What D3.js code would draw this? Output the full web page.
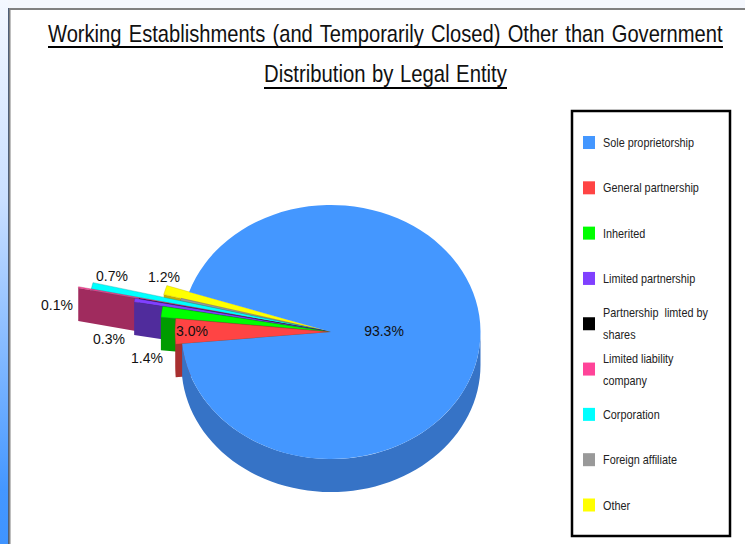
<!DOCTYPE html>
<html>
<head>
<meta charset="utf-8">
<script src="https://cdn.jsdelivr.net/npm/d3@7"></script>
<style>
  html, body { margin: 0; padding: 0; background: #fff; }
  svg { display: block; }
  text { font-family: "Liberation Sans", Arial, sans-serif; }
</style>
</head>
<body>
<div id="Chart"></div>
<script>
const titleLines = [
  "Working Establishments (and Temporarily Closed) Other than Government",
  "Distribution by Legal Entity"
];
const categories = [
  "Sole proprietorship", "General partnership", "Inherited", "Limited partnership",
  "Partnership  limted by shares", "Limited liability company", "Corporation",
  "Foreign affiliate", "Other"
];
const shares = [93.3, 3.1, 1.2, 0.35, 0.03, 0.1, 0.5, 0.3, 1.0];
// percentages as printed on the chart, the original leaves two slices without one
const printed = ["93.3%", "3.0%", "1.4%", "0.3%", null, "0.1%", "0.7%", null, "1.2%"];

// drawing only
const colors = ["#4497ff", "#ff4444", "#00ff00", "#8040ff", "#000000", "#ff4499", "#00ffff", "#999999", "#ffff00"];
const wallColors = ["#3673c6", "#a83030", "#009c00", "#502c9c", "#000000", "#a02b5e", "#00a0a0", "#606060", "#c4ae00"];
const reach = [149.5, 156, 171, 200, 196, 258, 245, 155, 173];
const labelAt = [[384, 331], [192, 331], [147, 358], [109, 339], null, [57, 305], [112, 276], null, [164, 277]];
const legendLines = [
  ["Sole proprietorship"], ["General partnership"], ["Inherited"], ["Limited partnership"],
  ["Partnership  limted by", "shares"], ["Limited liability", "company"], ["Corporation"],
  ["Foreign affiliate"], ["Other"]
];

const W = 745, H = 544;
const cx = 331, cy = 332, tilt = 0.85, depth = 33;
const startDeg = 288.4;
const rad = d => d * Math.PI / 180;

const svg = d3.select("#Chart").append("svg").attr("width", W).attr("height", H);

const grad = svg.append("defs").append("linearGradient")
  .attr("id", "strip").attr("x1", 0).attr("x2", 0).attr("y1", 0).attr("y2", 1);
grad.append("stop").attr("offset", 0).attr("stop-color", "#f4f8ff");
grad.append("stop").attr("offset", 0.37).attr("stop-color", "#c9dfff");
grad.append("stop").attr("offset", 0.9).attr("stop-color", "#4497ff");
grad.append("stop").attr("offset", 1).attr("stop-color", "#3f94ff");

// slide background and frame
svg.append("rect").attr("width", W).attr("height", 8).attr("fill", "#f4f7fd");
svg.append("rect").attr("width", 8).attr("height", H).attr("fill", "url(#strip)");
svg.append("rect").attr("x", 8).attr("width", 1).attr("y", 8).attr("height", H - 8).attr("fill", "#1f3f6f");
svg.append("path").attr("d", `M9.5 ${H}V9H${W}`).attr("fill", "none").attr("stroke", "#808080").attr("stroke-width", 2);

// title, squeezed to the narrow face of the original
const titleG = svg.append("g");
const titleSpec = [{x: 48, w: 675, y: 42, ul: 47, gap: 2}, {x: 264, w: 243, y: 82, ul: 88, gap: 1}];
titleLines.forEach((line, i) => {
  const s = titleSpec[i];
  const t = titleG.append("text")
    .attr("font-size", 24)
    .attr("word-spacing", s.gap)
    .attr("fill", "#111")
    .text(line);
  t.attr("transform", `translate(${s.x} ${s.y}) scale(${s.w / t.node().getComputedTextLength()} 1)`);
  titleG.append("line")
    .attr("x1", s.x).attr("x2", s.x + s.w).attr("y1", s.ul).attr("y2", s.ul)
    .attr("stroke", "#000").attr("stroke-width", 2);
});

// pie
const pie = d3.pie().sort(null).value(d => d.share)
  .startAngle(rad(startDeg)).endAngle(rad(startDeg + 360));
const slices = pie(categories.map((name, i) => ({name, share: shares[i], i})));
const arc = d3.arc().innerRadius(0).outerRadius(d => reach[d.data.i]);
const pieG = svg.append("g").attr("transform", `translate(${cx} ${cy}) scale(1 ${tilt})`);
const dy = depth / tilt;
const at = (a, r) => [r * Math.sin(a), -r * Math.cos(a)];
const line = d3.line();

function drawEdgeWall(d) {
  const tip = at(d.startAngle, reach[d.data.i]);
  pieG.append("path")
    .attr("d", line([[0, 0], tip, [tip[0], tip[1] + dy], [0, dy]]) + "Z")
    .attr("fill", wallColors[d.data.i]);
}

function drawRimWall(d) {
  const r = reach[d.data.i];
  // the rim only shows on the front half of the ellipse
  for (const k of [0, 1]) {
    const a0 = Math.max(d.startAngle, rad(90 + 360 * k));
    const a1 = Math.min(d.endAngle, rad(270 + 360 * k));
    if (a1 <= a0) continue;
    const steps = d3.range(0, 61).map(t => a0 + (a1 - a0) * t / 60);
    const upper = steps.map(a => at(a, r));
    const lower = steps.slice().reverse().map(a => { const p = at(a, r); return [p[0], p[1] + dy]; });
    pieG.append("path").attr("d", line(upper.concat(lower)) + "Z").attr("fill", wallColors[d.data.i]);
  }
}

function drawFace(d) {
  pieG.append("path")
    .attr("d", arc(d))
    .attr("fill", colors[d.data.i])
    .attr("stroke", wallColors[d.data.i])
    .attr("stroke-width", d.data.i === 0 ? 0 : 0.4);
}

// paint from the back slice forward, big slice last
slices.slice(1).reverse().forEach(d => {
  drawEdgeWall(d);
  drawRimWall(d);
  drawFace(d);
});
drawRimWall(slices[0]);
drawFace(slices[0]);

// value labels
svg.append("g").selectAll("text")
  .data(slices.filter(d => printed[d.data.i]))
  .join("text")
    .attr("x", d => labelAt[d.data.i][0])
    .attr("y", d => labelAt[d.data.i][1])
    .attr("dy", "0.35em")
    .attr("text-anchor", "middle")
    .attr("font-size", 14)
    .attr("fill", "#111")
    .text(d => printed[d.data.i]);

// legend
svg.append("rect")
  .attr("x", 572).attr("y", 111).attr("width", 158).attr("height", 425)
  .attr("fill", "#fff").attr("stroke", "#000").attr("stroke-width", 2.5);
const legendY = d3.scalePoint().domain(categories).range([142.5, 505]);
const rows = svg.append("g").selectAll("g")
  .data(categories)
  .join("g")
    .attr("transform", d => `translate(583 ${legendY(d)})`);
rows.append("rect")
  .attr("y", -6.5).attr("width", 12).attr("height", 13)
  .attr("fill", (d, i) => colors[i]);
rows.each(function(d, i) {
  const lines = legendLines[i];
  const g = d3.select(this);
  lines.forEach((t, j) => {
    g.append("text")
      .attr("transform", `translate(20 ${(j - (lines.length - 1) / 2) * 22}) scale(0.835 1)`)
      .attr("dy", "0.35em")
      .attr("font-size", 13)
      .attr("fill", "#222")
      .style("white-space", "pre")
      .text(t);
  });
});
</script>
</body>
</html>
